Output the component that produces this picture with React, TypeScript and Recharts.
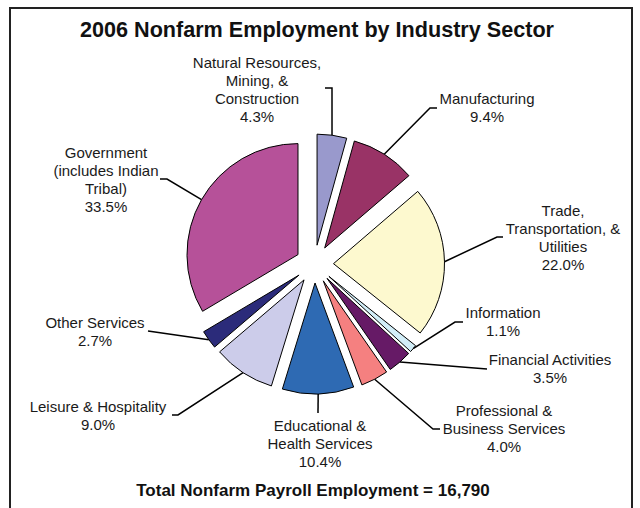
import React from 'react';
import { PieChart, Pie, Cell } from 'recharts';

const SECTORS = [
  'Natural Resources, Mining, & Construction',
  'Manufacturing',
  'Trade, Transportation, & Utilities',
  'Information',
  'Financial Activities',
  'Professional & Business Services',
  'Educational & Health Services',
  'Leisure & Hospitality',
  'Other Services',
  'Government (includes Indian Tribal)',
];

const LABEL_LINES = [
  ['Natural Resources,', 'Mining, &', 'Construction'],
  ['Manufacturing'],
  ['Trade,', 'Transportation, &', 'Utilities'],
  ['Information'],
  ['Financial Activities'],
  ['Professional &', 'Business Services'],
  ['Educational &', 'Health Services'],
  ['Leisure & Hospitality'],
  ['Other Services'],
  ['Government', '(includes Indian', 'Tribal)'],
];

const SHARES = [4.3, 9.4, 22.0, 1.1, 3.5, 4.0, 10.4, 9.0, 2.7, 33.5];

const COLORS = [
  '#9999cc', '#993366', '#fdf9cf', '#d2eef8', '#661a66',
  '#f58080', '#2e6ab3', '#ccccea', '#2b2b7a', '#b65199',
];

const TITLE = '2006 Nonfarm Employment by Industry Sector';
const TOTAL_EMPLOYMENT = '16,790';

// label text centre x, first line centre y, leader elbow and stub end
const LABEL_POS = [
  { x: 257, y: 63, elbow: [332, 88], end: [325, 88] },
  { x: 487, y: 99, elbow: [430, 108], end: [437, 108] },
  { x: 563, y: 211, elbow: [497, 237], end: [503, 237] },
  { x: 503, y: 313, elbow: [455, 322], end: [463, 322] },
  { x: 550, y: 360, elbow: [487, 369], end: [487, 369] },
  { x: 504, y: 411, elbow: [433, 429], end: [440, 429] },
  { x: 320, y: 426, elbow: [318, 413], end: [318, 413] },
  { x: 98, y: 407, elbow: [178, 415], end: [172, 415] },
  { x: 95, y: 323, elbow: [148, 331], end: [148, 331] },
  { x: 106, y: 153, elbow: [167, 179], end: [160, 179] },
];

const CX = 314.5;
const CY = 264;
const RADIUS = 111;
const EXPLODE = 19;
const LINE_H = 18;

const data = SECTORS.map((name, i) => ({ name, value: SHARES[i] }));
const sum = SHARES.reduce((a, b) => a + b, 0);

// offset of each exploded slice along its mid angle
const offsets = SHARES.map((v, i) => {
  const before = SHARES.slice(0, i).reduce((a, b) => a + b, 0);
  const ang = ((90 - (360 * (before + v / 2)) / sum) * Math.PI) / 180;
  return { dx: EXPLODE * Math.cos(ang), dy: -EXPLODE * Math.sin(ang) };
});

const makeLabel = (i: number) => (props: any) => {
  if (props.index !== i) return null;
  const rad = (-props.midAngle * Math.PI) / 180;
  const ex = props.cx + props.outerRadius * Math.cos(rad);
  const ey = props.cy + props.outerRadius * Math.sin(rad);
  const pos = LABEL_POS[i];
  const lines = [...LABEL_LINES[i], `${SHARES[i].toFixed(1)}%`];
  return (
    <g>
      <polyline
        points={`${ex},${ey} ${pos.elbow[0]},${pos.elbow[1]} ${pos.end[0]},${pos.end[1]}`}
        fill="none"
        stroke="#000"
        strokeWidth={1.5}
      />
      <text
        textAnchor="middle"
        fontFamily="'Liberation Sans', Arial, sans-serif"
        fontSize={15}
        fill="#1a1a1a"
      >
        {lines.map((t, k) => (
          <tspan key={k} x={pos.x} y={pos.y + k * LINE_H + 5}>
            {t}
          </tspan>
        ))}
      </text>
    </g>
  );
};

export default function App() {
  return (
    <div style={{ position: 'absolute', left: 0, top: 0, width: 640, height: 508, background: '#fff', overflow: 'hidden', fontFamily: "'Liberation Sans', Arial, sans-serif" }}>
      <div style={{ position: 'absolute', left: 9, top: 7, width: 620, height: 520, border: '2.5px solid #222' }} />
      <div style={{ position: 'absolute', left: 0, top: 16, width: 634, textAlign: 'center', fontSize: 21.6, fontWeight: 'bold', color: '#111', lineHeight: '28px' }}>
        {TITLE}
      </div>
      <div style={{ position: 'absolute', left: 0, top: 480, width: 626, textAlign: 'center', fontSize: 17, fontWeight: 'bold', color: '#111', lineHeight: '22px' }}>
        Total Nonfarm Payroll Employment = {TOTAL_EMPLOYMENT}
      </div>
      <div style={{ position: 'absolute', left: 0, top: 0 }}>
        <PieChart width={640} height={508} margin={{ top: 0, right: 0, bottom: 0, left: 0 }}>
          {SHARES.map((_, i) => (
            <Pie
              key={i}
              data={data}
              dataKey="value"
              nameKey="name"
              cx={CX + offsets[i].dx}
              cy={CY + offsets[i].dy}
              innerRadius={0}
              outerRadius={RADIUS}
              startAngle={90}
              endAngle={-270}
              label={makeLabel(i)}
              labelLine={false}
              isAnimationActive={false}
            >
              {data.map((d, j) => (
                <Cell
                  key={d.name}
                  fill={j === i ? COLORS[j] : 'none'}
                  stroke={j === i ? '#000' : 'none'}
                  strokeWidth={1}
                />
              ))}
            </Pie>
          ))}
        </PieChart>
      </div>
    </div>
  );
}
